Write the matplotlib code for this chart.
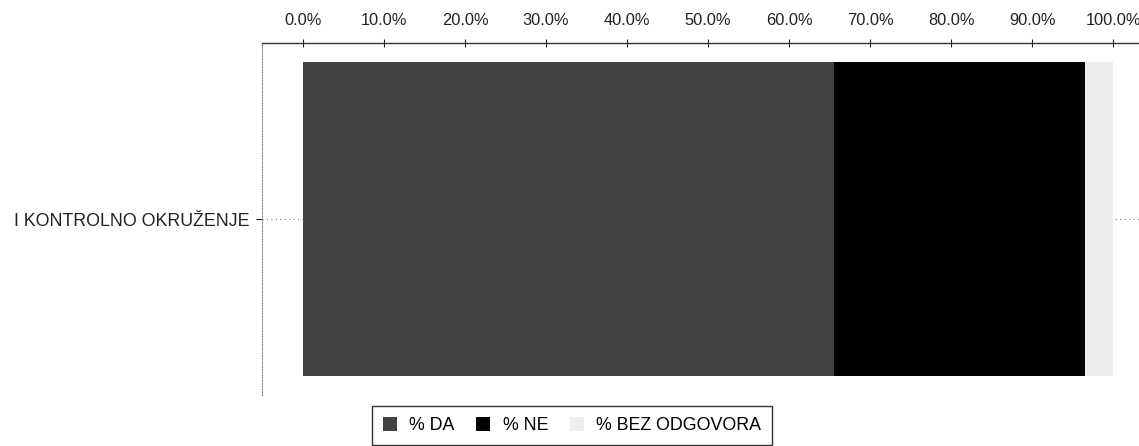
import numpy as np
import matplotlib.pyplot as plt
from matplotlib.ticker import FuncFormatter

plt.rcParams['font.family'] = ['Liberation Sans', 'DejaVu Sans']

# Podaci
kategorije = ['I KONTROLNO OKRUŽENJE']
serije = ['% DA', '% NE', '% BEZ ODGOVORA']
vrijednosti = [65.6, 30.9, 3.5]
boje = ['#424242', '#000000', '#eeeeee']
xticks = np.arange(0, 101, 10)

fig = plt.figure(figsize=(11.39, 4.46), dpi=100)
ax = fig.add_axes([262/1139, 1 - 395/446, 1 - 262/1139, (395 - 43)/446])

y = np.arange(len(kategorije))
ax.axhline(0, color='#777777', lw=0.8, ls=(0, (1, 3)), zorder=0)
lijevo = 0
bars = []
for s, v, c in zip(serije, vrijednosti, boje):
    b = ax.barh(y, v, left=lijevo, height=0.89, color=c, label=s, zorder=2)
    bars.append(b)
    lijevo += v

ax.set_xlim(-5.06, 103.2)
ax.set_ylim(-0.5, 0.5)
ax.invert_yaxis()
ax.xaxis.tick_top()
ax.set_xticks(xticks)
ax.xaxis.set_major_formatter(FuncFormatter(lambda v, p: '%.1f%%' % v))
ax.tick_params(axis='x', direction='inout', length=6, width=0.8, colors='#222222',
               labelsize=11.8, pad=8)
ax.set_yticks(y)
ax.set_yticklabels(kategorije, fontsize=12.8)
ax.tick_params(axis='y', direction='out', length=4, width=0.8, colors='#222222', pad=5)

for sp in ['right', 'bottom']:
    ax.spines[sp].set_visible(False)
ax.spines['top'].set_color('#333333')
ax.spines['top'].set_linewidth(1.0)
ax.spines['left'].set_color('#888888')
ax.spines['left'].set_linestyle((0, (1, 1.5)))

leg = fig.legend(handles=bars, labels=serije, loc='upper center',
                 bbox_to_anchor=(572/1139, 1 - 406/446), ncol=3, fontsize=12.8,
                 frameon=True, fancybox=False, edgecolor='black',
                 handlelength=0.8, handleheight=0.9, handletextpad=0.7,
                 columnspacing=1.2, borderpad=0.6, borderaxespad=0)
leg.get_frame().set_linewidth(1.0)

plt.savefig('out.png', dpi=100)
